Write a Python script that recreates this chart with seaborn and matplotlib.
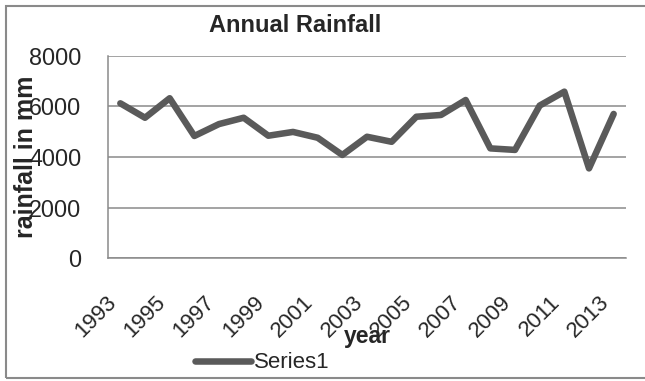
import matplotlib
matplotlib.use("Agg")
import matplotlib.pyplot as plt
from matplotlib.patches import Rectangle
import seaborn as sns
import pandas as pd

# Annual rainfall series
years = list(range(1993, 2014))
rainfall_mm = [6120, 5550, 6320, 4830, 5300, 5550, 4840, 4990, 4760, 4080,
               4800, 4600, 5590, 5660, 6250, 4340, 4280, 6030, 6580, 3550, 5700]
year_ticks = years[::2]
year_tick_labels = [str(y) for y in year_ticks]
rain_ticks = [0, 2000, 4000, 6000, 8000]
series_name = "Series1"

sns.set_style("white")
plt.rcParams["font.family"] = ["Liberation Sans", "DejaVu Sans"]

df = pd.DataFrame({"year": years, "rainfall": rainfall_mm, "series": series_name})

fig = plt.figure(figsize=(6.45, 3.81), dpi=100)
ax = fig.add_axes([108 / 645, 1 - 258.3 / 381, 518 / 645, 202.6 / 381])

grid_color = "#8a8a8a"
line_color = "#5a5a5a"

sns.lineplot(data=df, x="year", y="rainfall", hue="series", palette=[line_color],
             linewidth=4.7, ax=ax, legend=False,
             solid_joinstyle="round", solid_capstyle="round", zorder=3)

ax.set_xlim(years[0] - 0.5, years[-1] + 0.5)
ax.set_ylim(0, 8000)
ax.set_yticks(rain_ticks)
ax.set_yticklabels([str(v) for v in rain_ticks], fontsize=16.8)
ax.set_xticks(year_ticks)
ax.set_xticklabels(year_tick_labels, rotation=45, ha="right", va="top", fontsize=16)
ax.tick_params(axis="y", length=0, pad=19)
ax.tick_params(axis="x", length=0, pad=24)

ax.yaxis.grid(True, color=grid_color, linewidth=1.1)
ax.xaxis.grid(False)
for side in ("top", "right"):
    ax.spines[side].set_visible(False)
for side in ("left", "bottom"):
    ax.spines[side].set_color(grid_color)
    ax.spines[side].set_linewidth(1.1)

ax.set_ylabel("rainfall in mm", fontsize=18, fontweight="bold", va="center")
ax.yaxis.set_label_coords((26 - 108) / 518, 0.5)
ax.set_xlabel("year", fontsize=16.5, fontweight="bold", va="center")
ax.xaxis.set_label_coords(0.5, (258.3 - 337) / 202.6)

fig.text(295 / 645, 1 - 25 / 381, "Annual Rainfall", fontsize=17,
         fontweight="bold", ha="center", va="center")

handle = plt.Line2D([], [], color=line_color, linewidth=4.7, solid_capstyle="round")
fig.legend([handle], [series_name], loc="center left",
           bbox_to_anchor=(195 / 645, 1 - 363 / 381), frameon=False,
           fontsize=16, handlelength=2.5, handletextpad=0.15,
           borderpad=0, borderaxespad=0)

fig.patches.append(Rectangle((6 / 645, 3 / 381), 1.1, 1 - 9 / 381,
                             transform=fig.transFigure, fill=False,
                             edgecolor=grid_color, linewidth=1.5))

fig.savefig("out.png", dpi=100)
